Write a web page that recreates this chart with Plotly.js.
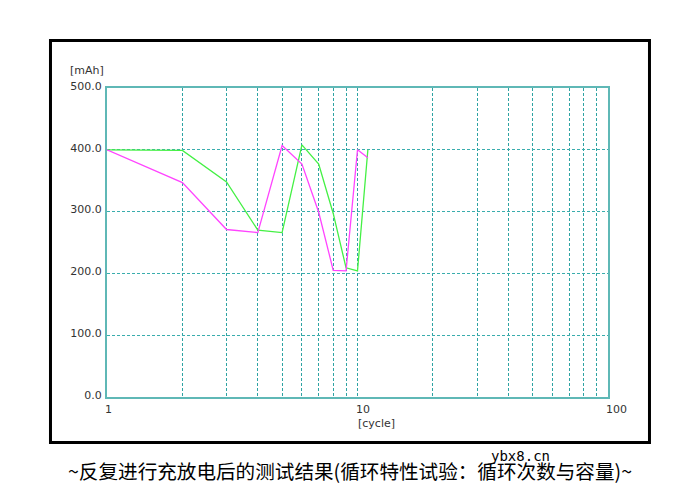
<!DOCTYPE html>
<html>
<head>
<meta charset="utf-8">
<script src="https://cdn.plot.ly/plotly-3.0.1.min.js"></script>
<style>html,body{margin:0;padding:0;background:#fff;}#chart{width:698px;height:487px;}</style>
</head>
<body>
<div id="chart"></div>
<script>
const cycles = [1, 2, 3, 4, 5, 6, 7, 8, 9, 10, 11];
const capacityA = [400, 347, 271, 266, 407, 377, 299, 205, 204, 400, 387];
const capacityB = [400, 399, 348, 270, 266, 408, 377, 297, 209, 204, 400];
const xGridVals = [1,2,3,4,5,6,7,8,9,10,20,30,40,50,60,70,80,90,100];
const xLabelVals = [1, 10, 100];
const xLabelText = ["1", "10", "100"];
const yTickVals = [0, 100, 200, 300, 400, 500];
const yTickText = ["0.0", "100.0", "200.0", "300.0", "400.0", "500.0"];
const caption = "~反复进行充放电后的测试结果(循环特性试验：循环次数与容量)~";

const axisColor = "#5fb8b6";
const gridColor = "#2ea3a3";
const tickFont = {family: "DejaVu Sans", size: 11, color: "#333"};

const traces = [
  {x: cycles, y: capacityB, mode: "lines", line: {color: "#44f044", width: 1.3}, hoverinfo: "skip"},
  {x: cycles, y: capacityA, mode: "lines", line: {color: "#ff44ff", width: 1.3}, hoverinfo: "skip"}
];

const annotations = xLabelVals.map((v, i) => ({
  x: Math.log10(v), y: 0, xref: "x", yref: "paper", text: xLabelText[i],
  showarrow: false, xanchor: "left", yanchor: "top", xshift: -4, yshift: -4, font: tickFont
}));
annotations.push({x: 0, y: 1, xref: "paper", yref: "paper", text: "[mAh]", showarrow: false,
  xanchor: "right", yanchor: "bottom", xshift: -1, yshift: 9, font: tickFont});
annotations.push({x: 1, y: 0, xref: "x", yref: "paper", text: "[cycle]", showarrow: false,
  xanchor: "left", yanchor: "top", xshift: -2, yshift: -18, font: tickFont});
annotations.push({x: 0.5, y: -0.237, xref: "paper", yref: "paper", text: caption, showarrow: false,
  xanchor: "center", yanchor: "middle", xshift: -8,
  font: {family: "Noto Sans CJK SC", size: 19.6, color: "#000"}});
annotations.push({x: 0.825, y: -0.191, xref: "paper", yref: "paper", text: "ybx8.cn", showarrow: false,
  xanchor: "center", yanchor: "middle",
  font: {family: "DejaVu Sans Mono", size: 14, color: "#000"}});

const layout = {
  width: 698, height: 487,
  margin: {l: 107, r: 90, t: 88, b: 90},
  paper_bgcolor: "#fff", plot_bgcolor: "#fff",
  showlegend: false,
  xaxis: {
    type: "log", range: [0, 2], tickvals: xGridVals, ticktext: xGridVals.map(() => ""),
    showgrid: true, gridcolor: gridColor, gridwidth: 1, griddash: "3px,2px",
    showline: true, linecolor: axisColor, linewidth: 2, mirror: true,
    ticks: "", zeroline: false, fixedrange: true
  },
  yaxis: {
    range: [0, 500], tickvals: yTickVals, ticktext: yTickText, tickfont: tickFont,
    showgrid: true, gridcolor: "#3aadad", gridwidth: 1.2, griddash: "3px,2px",
    showline: true, linecolor: axisColor, linewidth: 2, mirror: true,
    ticks: "", ticklabelstandoff: 1, ticklabelshift: -2, zeroline: false, fixedrange: true
  },
  shapes: [{
    type: "rect", xref: "paper", yref: "paper",
    x0: -0.1128, x1: 1.0828, y0: -0.1472, y1: 1.1537,
    line: {color: "#000", width: 3}, layer: "below"
  }],
  annotations: annotations
};

Plotly.newPlot("chart", traces, layout, {staticPlot: true, displayModeBar: false});
</script>
</body>
</html>
